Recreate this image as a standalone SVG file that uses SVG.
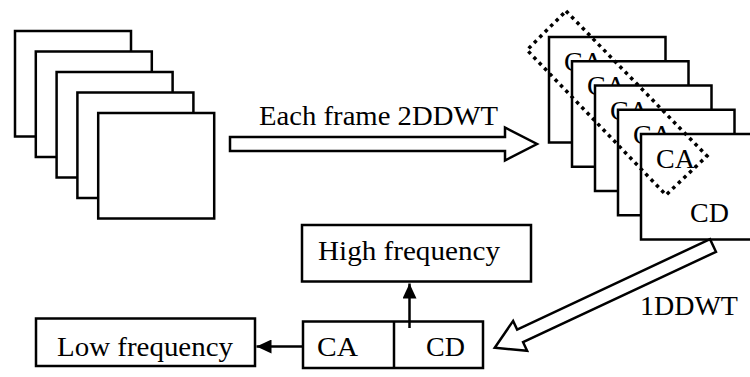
<svg xmlns="http://www.w3.org/2000/svg" width="750" height="377" viewBox="0 0 750 377">
  <style>
    .frame { fill: #fff; stroke: #000; stroke-width: 2.5; }
    .box { fill: #fff; stroke: #000; stroke-width: 2.5; }
    .lbl { font-family: "Liberation Serif", "Times New Roman", serif; font-size: 28px; fill: #000; }
    .hollow { fill: #fff; stroke: #000; stroke-width: 2.5; stroke-linejoin: miter; }
    .wire { fill: none; stroke: #000; stroke-width: 2.5; }
    .sel { fill: none; stroke: #000; stroke-width: 3.5; stroke-dasharray: 3.5 4.2; }
  </style>
  <defs>
    <marker id="head" viewBox="0 0 15 14" refX="15" refY="7" markerWidth="15" markerHeight="14" markerUnits="userSpaceOnUse" orient="auto">
      <path d="M0,0 L15,7 L0,14 Z" fill="#000"/>
    </marker>
  </defs>

  <!-- input video frames -->
  <g id="input-frames">
    <rect class="frame" x="15" y="31" width="116" height="105.5"/>
    <rect class="frame" x="35.8" y="51.5" width="116" height="105.5"/>
    <rect class="frame" x="56.6" y="72" width="116" height="105.5"/>
    <rect class="frame" x="77.4" y="92.5" width="116" height="105.5"/>
    <rect class="frame" x="98.2" y="113" width="116" height="105.5"/>
  </g>

  <!-- decomposed frames, each with CA / CD sub-bands -->
  <g id="dwt-frames">
    <rect class="frame" x="549" y="37" width="116.5" height="105.5"/>
    <text class="lbl" x="564" y="71">CA</text>
    <rect class="frame" x="572" y="61.25" width="116.5" height="105.5"/>
    <text class="lbl" x="587" y="95.25">CA</text>
    <rect class="frame" x="595" y="85.5" width="116.5" height="105.5"/>
    <text class="lbl" x="610" y="119.5">CA</text>
    <rect class="frame" x="618" y="109.75" width="116.5" height="105.5"/>
    <text class="lbl" x="633" y="143.75">CA</text>
    <rect class="frame" x="641" y="134" width="116.5" height="105.5"/>
    <text class="lbl" x="656" y="168">CA</text>
    <text class="lbl" x="690" y="222">CD</text>
  </g>

  <!-- dotted selection of the CA sub-bands -->
  <g id="ca-selection">
    <polygon class="sel" points="566,11 707,156 666,195 527,50"/>
  </g>

  <g id="high-frequency">
    <rect class="box" x="302" y="225" width="229" height="56.5"/>
    <text class="lbl" x="318" y="260" textLength="182" lengthAdjust="spacingAndGlyphs">High frequency</text>
  </g>

  <g id="low-frequency">
    <rect class="box" x="36" y="318.5" width="219" height="47.5"/>
    <text class="lbl" x="57" y="356" textLength="176" lengthAdjust="spacingAndGlyphs">Low frequency</text>
  </g>

  <g id="ca-cd">
    <rect class="box" x="303" y="321.5" width="180" height="46.5"/>
    <line class="wire" x1="394" y1="321.5" x2="394" y2="368"/>
    <text class="lbl" x="317" y="356" textLength="41" lengthAdjust="spacingAndGlyphs">CA</text>
    <text class="lbl" x="426" y="356">CD</text>
  </g>

  <g id="connectors">
    <!-- 2D DWT applied to every frame -->
    <path class="hollow" transform="translate(230,144)" d="M0,-7 H275 V-16.5 L307,0 L275,16.5 V7 H0 Z"/>
    <text class="lbl" x="259" y="125" textLength="239" lengthAdjust="spacingAndGlyphs">Each frame 2DDWT</text>
    <!-- 1D DWT along time -->
    <path class="hollow" transform="translate(713,245.5) rotate(154.9)" d="M0,-7 H213 V-16.5 L241,0 L213,16.5 V7 H0 Z"/>
    <text class="lbl" x="640" y="315">1DDWT</text>
    <!-- CD to high frequency, CA to low frequency -->
    <line class="wire" x1="409.5" y1="328" x2="409.5" y2="283.5" marker-end="url(#head)"/>
    <line class="wire" x1="303" y1="346.5" x2="256.5" y2="346.5" marker-end="url(#head)"/>
  </g>
</svg>
